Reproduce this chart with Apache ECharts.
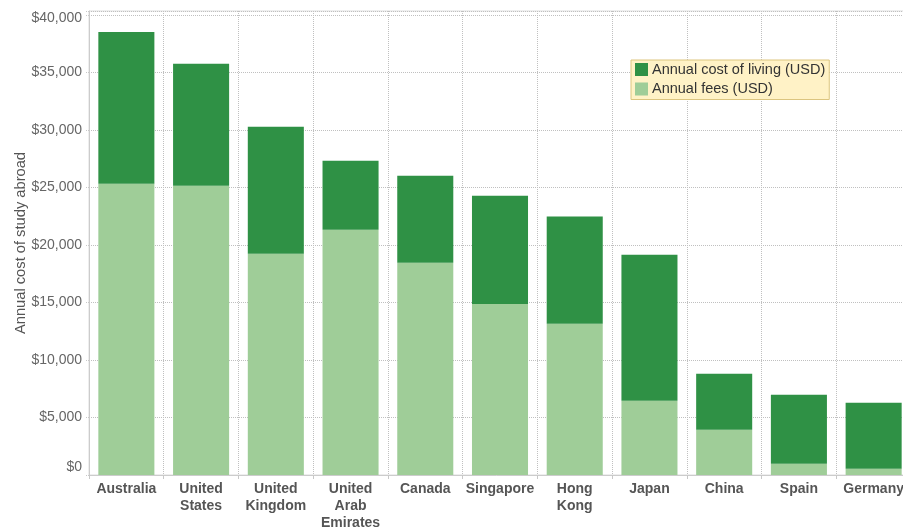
<!DOCTYPE html>
<html>
<head>
<meta charset="utf-8">
<script src="https://cdn.jsdelivr.net/npm/echarts@6/dist/echarts.min.js"></script>
<style>
html,body{margin:0;padding:0;background:#fff;}
#c{width:903px;height:527px;}
</style>
</head>
<body>
<div id="c"></div>
<script>
var categories = ['Australia', 'United\nStates', 'United\nKingdom', 'United\nArab\nEmirates', 'Canada', 'Singapore', 'Hong\nKong', 'Japan', 'China', 'Spain', 'Germany'];
var annualFees = [25330, 25160, 19240, 21330, 18460, 14870, 13160, 6460, 3940, 980, 550];
var costOfLiving = [13190, 10600, 11050, 6000, 7570, 9420, 9310, 12700, 4870, 6000, 5740];
var seriesNames = ['Annual cost of living (USD)', 'Annual fees (USD)'];
var yTicks = [0, 5000, 10000, 15000, 20000, 25000, 30000, 35000, 40000];

var FONT = '"Liberation Sans", Arial, sans-serif';
var chart = echarts.init(document.getElementById('c'), null, {renderer: 'canvas'});

function money(v) { return '$' + v.toLocaleString('en-US'); }

var option = {
  animation: false,
  textStyle: {fontFamily: FONT},
  grid: {
    left: 89, width: 822, top: 11, height: 464,
    outerBoundsMode: 'none',
    containLabel: false,
    show: true, borderColor: '#dcdcdc', borderWidth: 1, backgroundColor: 'transparent'
  },
  legend: {
    orient: 'vertical',
    left: 631, top: 60,
    padding: [2, 4, 3, 4],
    itemGap: 4.5,
    itemWidth: 13, itemHeight: 13,
    backgroundColor: '#fff2c6',
    borderColor: '#dcc57f',
    borderWidth: 1,
    borderRadius: 0,
    data: [
      {name: seriesNames[0], icon: 'rect'},
      {name: seriesNames[1], icon: 'rect'}
    ],
    textStyle: {fontFamily: FONT, fontSize: 14.5, color: '#333', padding: [0, 0, 0, -1]}
  },
  xAxis: {
    type: 'category',
    data: categories,
    axisLine: {lineStyle: {color: '#cccccc', width: 1}},
    axisTick: {show: true, length: 4, lineStyle: {color: '#c8c8c8'}},
    axisLabel: {
      interval: 0, margin: 6,
      fontFamily: FONT, fontSize: 14, fontWeight: 'bold', color: '#555',
      lineHeight: 17
    },
    splitLine: {show: true, lineStyle: {color: '#c0c0c0', type: [1, 1], width: 1}}
  },
  yAxis: {
    type: 'value',
    min: 0, max: 40350, interval: 5000,
    name: 'Annual cost of study abroad',
    nameLocation: 'middle',
    nameGap: 61,
    nameMoveOverlap: false,
    nameTextStyle: {fontFamily: FONT, fontSize: 14.7, color: '#555'},
    axisLine: {show: true, lineStyle: {color: '#cccccc'}},
    axisTick: {show: true, length: 4, lineStyle: {color: '#c8c8c8', type: [1, 1]}},
    axisLabel: {
      margin: 7,
      fontFamily: FONT, fontSize: 14, color: '#666',
      formatter: function (v) {
        if (yTicks.indexOf(v) < 0) return '';
        if (v === 0) return '{b|' + money(v) + '}';
        if (v === 40000) return '{t|' + money(v) + '}';
        return money(v);
      },
      rich: {
        b: {fontFamily: FONT, fontSize: 14, color: '#666', padding: [0, 0, 16, 0]},
        t: {fontFamily: FONT, fontSize: 14, color: '#666', padding: [7, 0, 0, 0]}
      }
    },
    splitLine: {show: true, lineStyle: {color: '#c0c0c0', type: [1, 1], width: 1}}
  },
  series: [
    {
      name: seriesNames[1],
      type: 'bar',
      stack: 'total',
      data: annualFees,
      barCategoryGap: '25%',
      itemStyle: {color: '#9fcd98'}
    },
    {
      name: seriesNames[0],
      type: 'bar',
      stack: 'total',
      data: costOfLiving,
      barCategoryGap: '25%',
      itemStyle: {color: '#2f9145'}
    }
  ]
};
chart.setOption(option);
</script>
</body>
</html>
